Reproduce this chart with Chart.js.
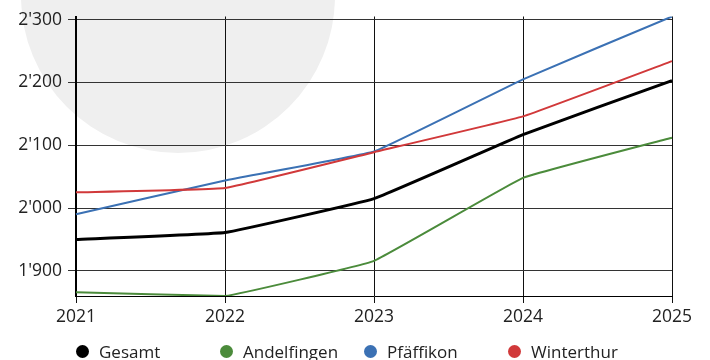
<!DOCTYPE html>
<html>
<head>
<meta charset="utf-8">
<script src="https://cdn.jsdelivr.net/npm/chart.js@4.4.1/dist/chart.umd.min.js"></script>
<style>
  html, body { margin: 0; padding: 0; background: #fff; }
  #wrap { position: relative; width: 710px; height: 360px; overflow: hidden; }
  #blob {
    position: absolute; left: 21px; top: -161px; width: 314px; height: 314px;
    border-radius: 50%; background: #efefef;
  }
  #chart { position: absolute; left: 0; top: 0; }
  #legend {
    position: absolute; left: 76px; top: 341px; display: flex;
    font-family: "Open Sans", sans-serif; font-size: 17px; color: #222;
  }
  #legend .item { width: 144px; display: flex; align-items: center; height: 20px; white-space: nowrap; }
  #legend .dot { width: 13px; height: 13px; border-radius: 50%; margin-right: 10px; flex: none; }
</style>
</head>
<body>
<div id="wrap">
  <div id="blob"></div>
  <canvas id="chart" width="710" height="360"></canvas>
  <div id="legend"></div>
</div>
<script>
// Einwohner je Jahr
const years = ['2021', '2022', '2023', '2024', '2025'];
const gesamt = [1950, 1961, 2015, 2117, 2203];
const andelfingen = [1866, 1860, 1916, 2048, 2112];
const pfaeffikon = [1990, 2044, 2090, 2205, 2305];
const winterthur = [2025, 2032, 2089, 2146, 2234];

const seriesNames = ['Gesamt', 'Andelfingen', 'Pfäffikon', 'Winterthur'];
const seriesColors = ['#000000', '#4b8b3b', '#3b71b4', '#d1393a'];

const allValues = [...gesamt, ...andelfingen, ...pfaeffikon, ...winterthur];

function fmt(v) {
  return String(v).replace(/\B(?=(\d{3})+(?!\d))/g, "'");
}

const font = { family: '"Open Sans", sans-serif', size: 17.5 };

function makeSet(i, values, width) {
  return {
    label: seriesNames[i],
    data: values,
    borderColor: seriesColors[i],
    backgroundColor: seriesColors[i],
    borderWidth: width,
    pointRadius: 0,
    tension: 0.08,
    fill: false
  };
}

const chart = new Chart(document.getElementById('chart'), {
  type: 'line',
  data: {
    labels: years,
    datasets: [
      makeSet(3, winterthur, 2),
      makeSet(2, pfaeffikon, 2),
      makeSet(1, andelfingen, 2),
      makeSet(0, gesamt, 3)
    ]
  },
  options: {
    responsive: false,
    animation: false,
    layout: { padding: { top: 16, right: 38, left: 0, bottom: 0 } },
    plugins: { legend: { display: false }, tooltip: { enabled: false } },
    scales: {
      x: {
        afterFit: a => { a.height = 64; },
        grid: { color: '#111', lineWidth: 1, tickLength: 7 },
        border: { color: '#000', width: 1 },
        ticks: { color: '#222', font: font, padding: 4, maxRotation: 0 }
      },
      y: {
        min: Math.min(...allValues),
        max: Math.max(...allValues),
        afterFit: a => { a.width = 76; },
        grid: { color: '#333', lineWidth: 1, tickLength: 8 },
        border: { color: '#000', width: 2 },
        ticks: {
          stepSize: 100,
          includeBounds: false,
          color: '#222',
          font: font,
          padding: 6,
          callback: v => fmt(v)
        }
      }
    }
  }
});

// Legend below the plot
const legend = document.getElementById('legend');
seriesNames.forEach((name, i) => {
  const item = document.createElement('div');
  item.className = 'item';
  item.innerHTML = '<span class="dot" style="background:' + seriesColors[i] + '"></span><span>' + name + '</span>';
  legend.appendChild(item);
});
</script>
</body>
</html>
